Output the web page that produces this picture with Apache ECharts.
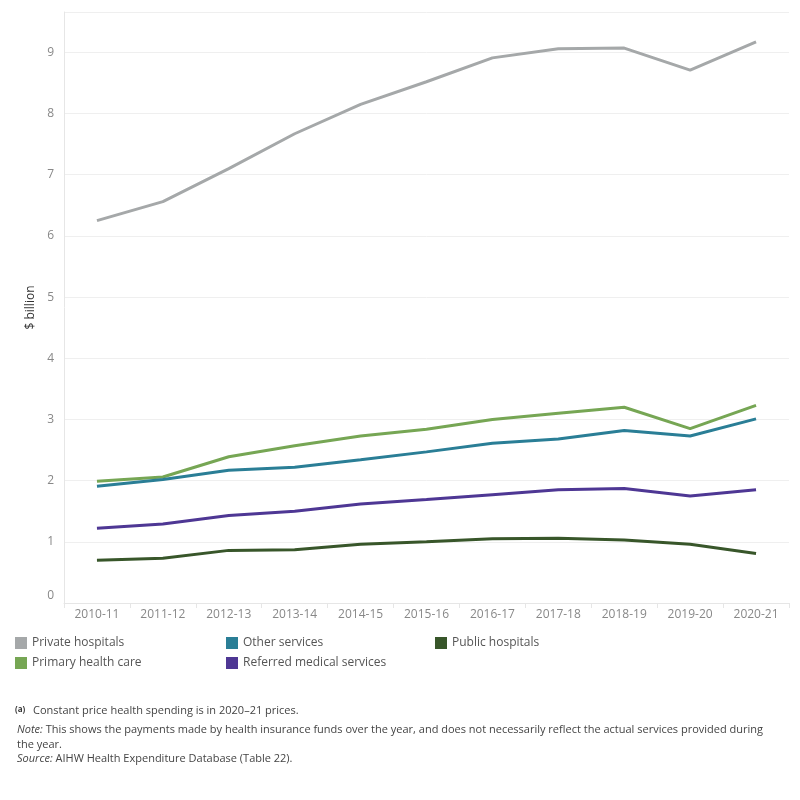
<!DOCTYPE html>
<html>
<head>
<meta charset="utf-8">
<script src="https://cdn.jsdelivr.net/npm/echarts@6/dist/echarts.min.js"></script>
<style>
html,body{margin:0;padding:0;background:#fff;}
#chart{width:800px;height:800px;}
</style>
</head>
<body>
<div id="chart"></div>
<script>
const categories = ['2010-11','2011-12','2012-13','2013-14','2014-15','2015-16','2016-17','2017-18','2018-19','2019-20','2020-21'];
const privateHospitals = [6.25, 6.56, 7.10, 7.67, 8.15, 8.52, 8.91, 9.06, 9.07, 8.71, 9.17];
const primaryHealthCare = [1.99, 2.06, 2.39, 2.57, 2.73, 2.84, 3.00, 3.10, 3.20, 2.85, 3.23];
const otherServices = [1.91, 2.02, 2.17, 2.22, 2.34, 2.47, 2.61, 2.68, 2.82, 2.73, 3.01];
const referredMedical = [1.22, 1.29, 1.43, 1.50, 1.62, 1.69, 1.77, 1.85, 1.87, 1.75, 1.85];
const publicHospitals = [0.70, 0.73, 0.86, 0.87, 0.96, 1.00, 1.05, 1.06, 1.03, 0.96, 0.81];
const yTicks = [0,1,2,3,4,5,6,7,8,9];

const FONT = '"Open Sans", sans-serif';
const colors = {
  'Private hospitals': '#a5a8a9',
  'Primary health care': '#76a654',
  'Other services': '#2a7e96',
  'Referred medical services': '#4e3794',
  'Public hospitals': '#38562a'
};

function line(name, data) {
  return {
    name: name, type: 'line', data: data, symbol: 'none', smooth: false,
    lineStyle: { width: 3, color: colors[name] }, itemStyle: { color: colors[name] },
    emphasis: { disabled: true }
  };
}

function legend(left, names) {
  return {
    orient: 'vertical', left: left, top: 637, itemWidth: 12, itemHeight: 12, itemGap: 8,
    icon: 'rect', data: names, selectedMode: false, padding: 0,
    textStyle: { fontFamily: FONT, fontSize: 12, color: '#555' }
  };
}

const chart = echarts.init(document.getElementById('chart'), null, { renderer: 'canvas' });
chart.setOption({
  animation: false,
  backgroundColor: '#fff',
  grid: { left: 64, right: 11, top: 12, bottom: 197, containLabel: false },
  xAxis: {
    type: 'category', data: categories, boundaryGap: true,
    axisLine: { show: true, lineStyle: { color: '#e6e6e6' } },
    axisTick: { show: true, length: 5, lineStyle: { color: '#e6e6e6' } },
    axisLabel: { fontFamily: FONT, fontSize: 12, color: '#888', margin: 6 }
  },
  yAxis: {
    type: 'value', min: 0, max: 9.66, interval: 1,
    name: '$ billion', nameLocation: 'middle', nameGap: 27, nameRotate: 90,
    nameTextStyle: { fontFamily: FONT, fontSize: 12, color: '#333' },
    axisLine: { show: true, lineStyle: { color: '#e6e6e6' } },
    axisTick: { show: false },
    axisLabel: {
      fontFamily: FONT, fontSize: 12, color: '#888', margin: 10,
      formatter: function (v) {
        if (yTicks.indexOf(v) < 0) return '';
        return v === 0 ? '{z|0}' : String(v);
      },
      rich: { z: { fontFamily: FONT, fontSize: 12, color: '#888', padding: [0, 0, 14, 0] } }
    },
    splitLine: { show: true, lineStyle: { color: '#efefef' } }
  },
  legend: [
    legend(15, ['Private hospitals', 'Primary health care']),
    legend(226, ['Other services', 'Referred medical services']),
    legend(435, ['Public hospitals'])
  ],
  series: [
    line('Private hospitals', privateHospitals),
    line('Primary health care', primaryHealthCare),
    line('Other services', otherServices),
    line('Referred medical services', referredMedical),
    line('Public hospitals', publicHospitals)
  ],
  graphic: [
    { type: 'text', left: 15, top: 706, style: { text: '(a)', font: 'bold 8px ' + FONT, fill: '#333' } },
    { type: 'text', left: 33, top: 705, style: { text: 'Constant price health spending is in 2020\u201321 prices.', font: '11px ' + FONT, fill: '#444' } },
    { type: 'text', left: 17, top: 722, style: {
        text: '{i|Note:} This shows the payments made by health insurance funds over the year, and does not necessarily reflect the actual services provided during\nthe year.',
        font: '11px ' + FONT, fill: '#444', lineHeight: 15,
        rich: { i: { fontStyle: 'italic', fontFamily: FONT, fontSize: 11, fill: '#444' } } } },
    { type: 'text', left: 17, top: 753, style: {
        text: '{i|Source:} AIHW Health Expenditure Database (Table 22).',
        font: '11px ' + FONT, fill: '#444',
        rich: { i: { fontStyle: 'italic', fontFamily: FONT, fontSize: 11, fill: '#444' } } } }
  ]
});
</script>
</body>
</html>
